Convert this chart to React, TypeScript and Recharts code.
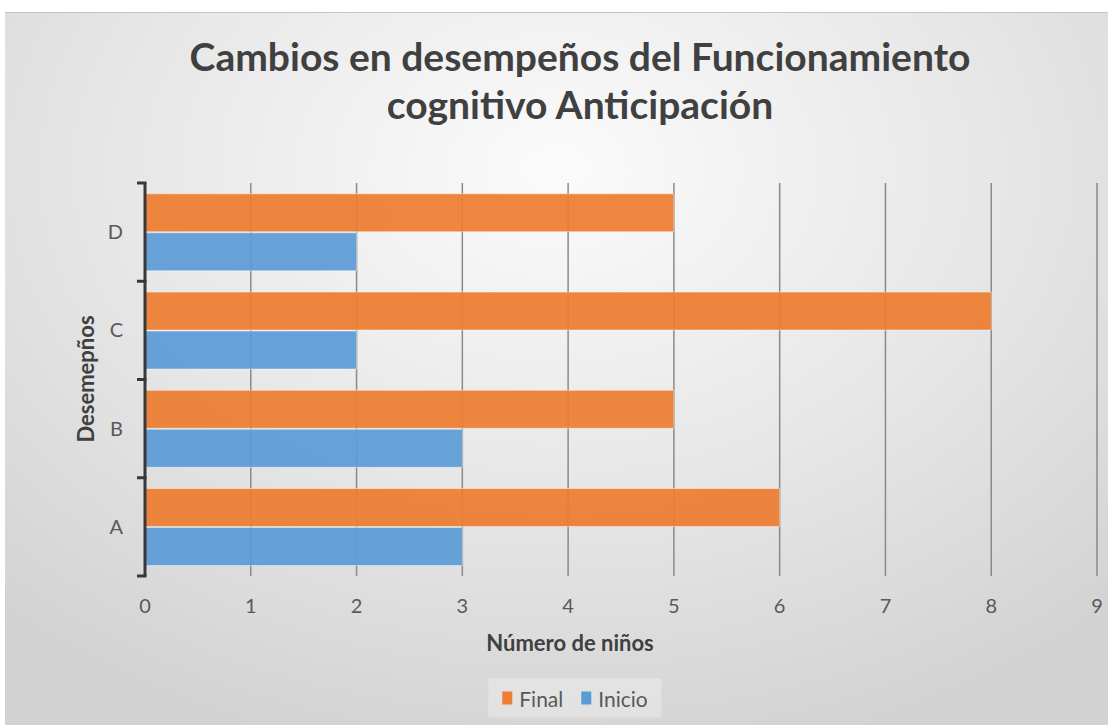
import { Bar, BarChart, CartesianGrid, XAxis, YAxis } from "recharts";

const CATEGORIES = ["A", "B", "C", "D"];
const FINAL = [6, 5, 8, 5];
const INICIO = [3, 3, 2, 2];
const X_TICKS = [0, 1, 2, 3, 4, 5, 6, 7, 8, 9];

const SERIES = [
  { key: "final", name: "Final", color: "#ED7D31" },
  { key: "inicio", name: "Inicio", color: "#5B9BD5" },
];

const TITLE_LINES = [
  "Cambios en desempeños del Funcionamiento",
  "cognitivo Anticipación",
];

// D on top, A at the bottom
const data = CATEGORIES.map((cat, i) => ({
  cat,
  final: FINAL[i],
  inicio: INICIO[i],
})).reverse();

const FONT = "Lato, 'Open Sans', sans-serif";
const W = 1103;
const H = 713;
const MARGIN = { top: 170, right: 11, bottom: 110, left: 80 };
const Y_AXIS_W = 60;
const X_AXIS_H = 40;
const PLOT_LEFT = MARGIN.left + Y_AXIS_W;
const BAND = (H - MARGIN.top - MARGIN.bottom - X_AXIS_H) / CATEGORIES.length;
const AXIS_COLOR = "#383838";

// Excel style: label in the middle of the band, tick marks on the band edges
function CategoryTick(props: any) {
  const { x, y, payload, index } = props;
  const half = BAND / 2;
  return (
    <g>
      <text
        x={x}
        y={y}
        dy="0.35em"
        textAnchor="end"
        fill="#595959"
        fontSize={20}
        fontFamily={FONT}
      >
        {payload.value}
      </text>
      <line
        x1={PLOT_LEFT - 8}
        x2={PLOT_LEFT + 1.5}
        y1={y - half}
        y2={y - half}
        stroke={AXIS_COLOR}
        strokeWidth={3}
      />
      {index === CATEGORIES.length - 1 && (
        <line
          x1={PLOT_LEFT - 8}
          x2={PLOT_LEFT + 1.5}
          y1={y + half}
          y2={y + half}
          stroke={AXIS_COLOR}
          strokeWidth={3}
        />
      )}
    </g>
  );
}

export default function App() {
  return (
    <div
      style={{
        position: "absolute",
        left: 5,
        top: 12,
        width: W,
        height: H,
        fontFamily: FONT,
        borderTop: "1px solid #c4c4c4",
        background:
          "radial-gradient(ellipse 75% 85% at 50% 22%, #fbfbfb 0%, #e6e6e6 55%, #d2d2d2 100%)",
        overflow: "hidden",
      }}
    >
      <div
        style={{
          position: "absolute",
          top: 19,
          left: 0,
          width: 1150,
          textAlign: "center",
          fontSize: 39,
          fontWeight: 700,
          color: "#404040",
          lineHeight: "48px",
        }}
      >
        {TITLE_LINES.map((l) => (
          <div key={l}>{l}</div>
        ))}
      </div>

      <BarChart
        width={W}
        height={H}
        data={data}
        layout="vertical"
        barCategoryGap="11%"
        barGap={1}
        margin={MARGIN}
      >
        <CartesianGrid horizontal={false} stroke="#8a8a8a" strokeWidth={1.5} />
        <XAxis
          type="number"
          domain={[0, 9]}
          ticks={X_TICKS}
          height={X_AXIS_H}
          axisLine={false}
          tickLine={false}
          tickSize={0}
          tickMargin={23}
          tick={{ fill: "#595959", fontSize: 20, fontFamily: FONT }}
        />
        <YAxis
          type="category"
          dataKey="cat"
          width={Y_AXIS_W}
          axisLine={{ stroke: AXIS_COLOR, strokeWidth: 3 }}
          tickLine={false}
          tickSize={0}
          tickMargin={22}
          tick={<CategoryTick />}
        />
        {SERIES.map((s) => (
          <Bar
            key={s.key}
            dataKey={s.key}
            name={s.name}
            fill={s.color}
            fillOpacity={0.93}
            stroke="#ffffff"
            strokeOpacity={0.45}
            strokeWidth={1}
            isAnimationActive={false}
          />
        ))}
      </BarChart>

      <div
        style={{
          position: "absolute",
          left: 80,
          top: 366,
          transform: "translate(-50%, -50%) rotate(-90deg)",
          fontSize: 22,
          fontWeight: 700,
          color: "#404040",
          whiteSpace: "nowrap",
        }}
      >
        Desemepños
      </div>

      <div
        style={{
          position: "absolute",
          left: 565,
          top: 629,
          transform: "translate(-50%, -50%)",
          fontSize: 22,
          fontWeight: 700,
          color: "#404040",
          whiteSpace: "nowrap",
        }}
      >
        Número de niños
      </div>

      <div
        style={{
          position: "absolute",
          left: 570,
          top: 685,
          transform: "translate(-50%, -50%)",
          display: "flex",
          alignItems: "center",
          gap: 18,
          padding: "7px 14px",
          background: "rgba(255,255,255,0.28)",
          fontSize: 21,
          color: "#595959",
        }}
      >
        {SERIES.map((s) => (
          <span key={s.key} style={{ display: "flex", alignItems: "center" }}>
            <span
              style={{
                width: 10,
                height: 13,
                background: s.color,
                marginRight: 7,
                display: "inline-block",
              }}
            />
            {s.name}
          </span>
        ))}
      </div>
    </div>
  );
}
